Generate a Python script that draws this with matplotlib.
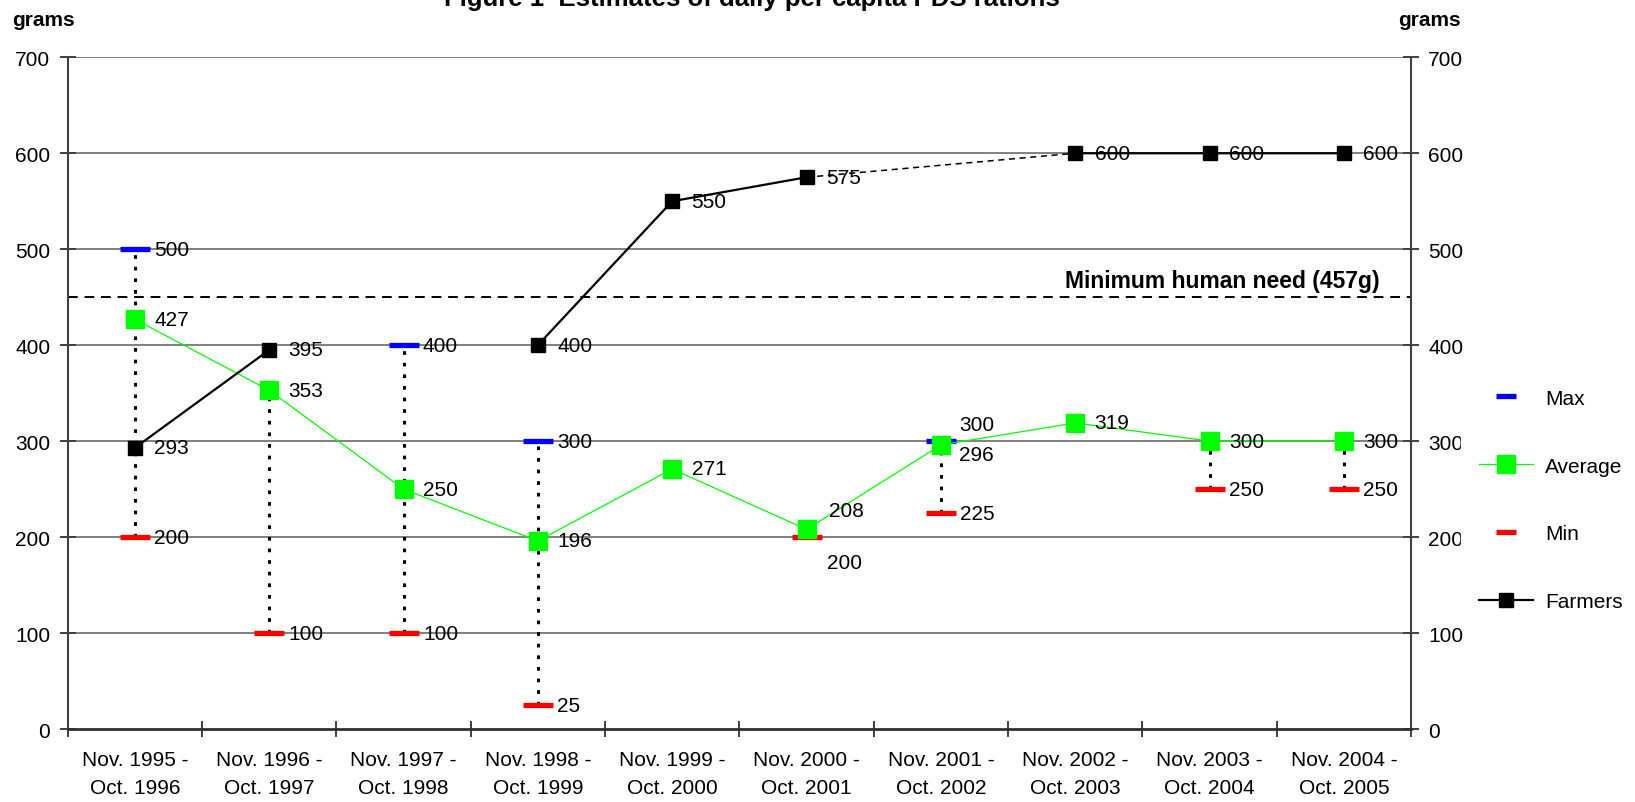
import numpy as np
import matplotlib
matplotlib.use('Agg')
import matplotlib.pyplot as plt
from matplotlib.lines import Line2D

plt.rcParams['font.family'] = ['Liberation Sans', 'DejaVu Sans']

# --------------------------------------------------------------------------- #
# Data ---------------------------------------------------------------------- #
# --------------------------------------------------------------------------- #

periods = ['Nov. 1995 -\nOct. 1996', 'Nov. 1996 -\nOct. 1997',
           'Nov. 1997 -\nOct. 1998', 'Nov. 1998 -\nOct. 1999',
           'Nov. 1999 -\nOct. 2000', 'Nov. 2000 -\nOct. 2001',
           'Nov. 2001 -\nOct. 2002', 'Nov. 2002 -\nOct. 2003',
           'Nov. 2003 -\nOct. 2004', 'Nov. 2004 -\nOct. 2005']

max_vals = [500, None, 400, 300, None, None, 300, None, None, None]
avg_vals = [427, 353, 250, 196, 271, 208, 296, 319, 300, 300]
min_vals = [200, 100, 100, 25, None, 200, 225, None, 250, 250]
farmers = [293, 395, None, 400, 550, 575, None, 600, 600, 600]
farmers_bridge = [(5, 7)]  # gap drawn as dashed line

need_level = 450
need_label = 'Minimum human need (457g)'
title = 'Figure 1  Estimates of daily per capita PDS rations'

yticks = [0, 100, 200, 300, 400, 500, 600, 700]

# label offsets (points) that differ from the default
offsets = {('avg', 5): (16.5, 13.5), ('min', 5): (14.5, -18),
           ('max', 6): (13, 12), ('avg', 6): (13, -7)}
default_off = (14, 0)


def arr(v):
    return np.array([np.nan if x is None else x for x in v], dtype=float)


# --------------------------------------------------------------------------- #
# Plot ---------------------------------------------------------------------- #
# --------------------------------------------------------------------------- #

fig = plt.figure(figsize=(16.35, 8.03), dpi=100)
ax = fig.add_axes([0.0414, 0.0909, 0.8216, 0.8365])
x = np.arange(len(periods))
fs = 15

# ---- GRID / NEED LINE ---- #
for yt in yticks[1:]:
    ax.axhline(yt, color='#808080', lw=1.4, zorder=1)
ax.axhline(need_level, color='black', lw=1.4, ls=(0, (5, 3.5)), zorder=2)
ax.annotate(need_label, xy=(0.977, need_level),
            xycoords=('axes fraction', 'data'), xytext=(0, 7),
            textcoords='offset points', ha='right', va='baseline',
            fontsize=16.5, fontweight='bold')

# ---- HIGH-LOW LINES ---- #
mx, av, mn = arr(max_vals), arr(avg_vals), arr(min_vals)
for i in x:
    vals = [v for v in (mx[i], av[i], mn[i]) if not np.isnan(v)]
    if len(vals) > 1:
        ax.plot([i, i], [min(vals), max(vals)], color='black', lw=2.2,
                ls=(0, (1.2, 2.6)), zorder=3)

# ---- SERIES ---- #
ax.plot(x, mx, ls='none', marker='_', ms=22, mew=3.8, color='#0000FF',
        zorder=4)
ax.plot(x, mn, ls='none', marker='_', ms=22, mew=3.8, color='#FF0000',
        zorder=4)
ax.plot(x, av, color='#00FF00', lw=0.9, marker='s', ms=12.5,
        mec='#00FF00', zorder=5)
fa = arr(farmers)
ax.plot(x, fa, color='black', lw=1.6, marker='s', ms=10, zorder=6)
for a, b in farmers_bridge:
    ax.plot([a, b], [fa[a], fa[b]], color='black', lw=1.1,
            ls=(0, (4, 3)), zorder=6)

# ---- DATA LABELS ---- #
for key, series in (('max', max_vals), ('avg', avg_vals),
                    ('min', min_vals), ('farm', farmers)):
    for i, v in enumerate(series):
        if v is None:
            continue
        if key == 'max' and avg_vals[i] == v:
            continue
        ax.annotate(str(v), xy=(i, v), xytext=offsets.get((key, i),
                    default_off), textcoords='offset points', ha='left',
                    va='center', fontsize=fs, zorder=7)

# ---- AXES ---- #
ax.set_xlim(-0.5, len(periods) - 0.5)
ax.set_ylim(0, 700)
ax.set_yticks(yticks)
ax.set_xticks(np.arange(len(periods) + 1) - 0.5)
ax.set_xticklabels([])
ax.set_xticks(x, minor=True)
ax.set_xticklabels(periods, minor=True, fontsize=fs, linespacing=1.6)
ax.tick_params(axis='x', which='major', direction='inout', length=11,
               width=1.4, color='#404040')
ax.tick_params(axis='x', which='minor', length=0, pad=15)
ax.tick_params(axis='y', direction='inout', length=11, width=1.4,
               color='#404040', labelsize=fs, pad=7, right=True,
               labelright=True)
for s in ('left', 'right'):
    ax.spines[s].set_color('#404040')
    ax.spines[s].set_linewidth(1.5)
ax.spines['bottom'].set_color('#303030')
ax.spines['bottom'].set_linewidth(2)
ax.spines['top'].set_visible(False)

# ---- TEXTS ---- #
fig.text(12 / 1635, 1 - 21 / 803, 'grams', fontsize=15, fontweight='bold',
         va='center', ha='left')
fig.text(1398 / 1635, 1 - 21 / 803, 'grams', fontsize=15, fontweight='bold',
         va='center', ha='left')
fig.text(752 / 1635, 1 - 6 / 803, title, fontsize=18.5, fontweight='bold',
         va='baseline', ha='center')

# ---- LEGEND ---- #
handles = [
    Line2D([], [], ls='none', marker='_', ms=14, mew=3.8, color='#0000FF'),
    Line2D([], [], color='#00FF00', lw=0.9, marker='s', ms=12.5,
           mec='#00FF00'),
    Line2D([], [], ls='none', marker='_', ms=14, mew=3.8, color='#FF0000'),
    Line2D([], [], color='black', lw=1.6, marker='s', ms=10),
]
fig.legend(handles, ['Max', 'Average', 'Min', 'Farmers'], loc='center left',
           bbox_to_anchor=(1461 / 1635, 1 - 501 / 803), fontsize=fs,
           frameon=True, facecolor='white', edgecolor='white', framealpha=1,
           fancybox=False, borderaxespad=0, borderpad=0.87, handlelength=2.6,
           handletextpad=0.55, labelspacing=2.35)

fig.savefig('out.png', dpi=100)
